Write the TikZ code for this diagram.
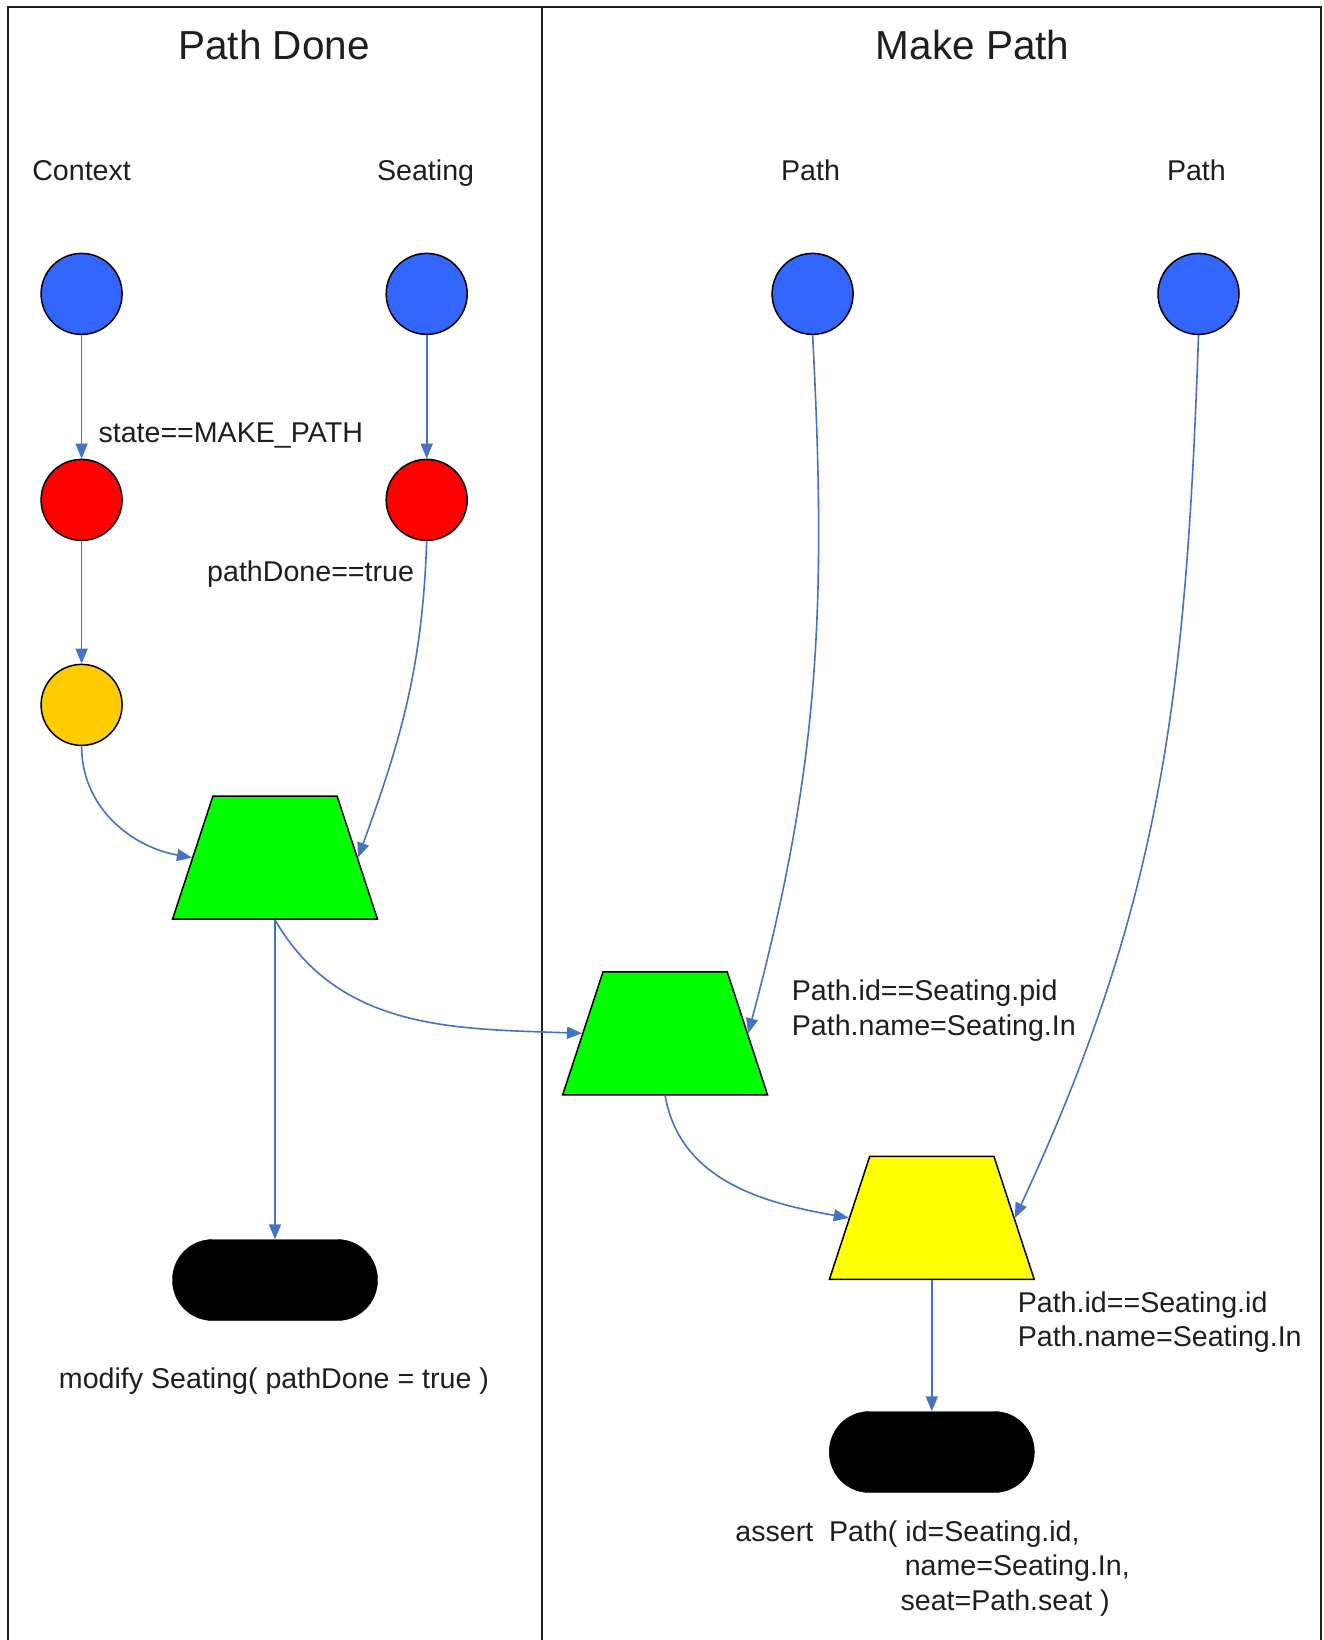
\documentclass[tikz,border=0pt]{standalone}
\usepackage{fontspec}
\setmainfont{Liberation Sans}
\usetikzlibrary{arrows.meta,shapes.geometric}
\definecolor{cblue}{RGB}{51,102,255}
\definecolor{cred}{RGB}{255,0,0}
\definecolor{corange}{RGB}{255,204,0}
\definecolor{cgreen}{RGB}{0,255,0}
\definecolor{cyellow}{RGB}{255,255,0}
\definecolor{carrow}{RGB}{70,114,196}
\definecolor{ctext}{RGB}{30,30,30}
\begin{document}
\begin{tikzpicture}[x=1pt,y=1pt,
  fact/.style={circle,draw=black,line width=1.5pt,minimum size=81pt,inner sep=0pt},
  joinbox/.style={trapezium,trapezium angle=72,trapezium stretches=true,minimum width=205pt,minimum height=123pt,draw=black,line width=1.5pt,inner sep=4pt},
  termbox/.style={rectangle,rounded corners=40pt,fill=black,draw=black,minimum width=205pt,minimum height=81pt},
  conn/.style={draw=carrow,line width=1.6pt,-{Triangle[length=15pt,width=12pt]}},
  lbl/.style={font=\fontsize{28.6}{34.5}\selectfont,text=ctext,inner sep=0pt},
  ttl/.style={font=\fontsize{40.5}{48}\selectfont,text=ctext,inner sep=0pt},
  framestyle/.style={draw=ctext,line width=2pt}]
\useasboundingbox (0,0) rectangle (1324,-1640);
% frame
\draw[framestyle] (8,-1640) -- (8,-7) -- (1321,-7) -- (1321,-1640);
\draw[framestyle] (542,-7) -- (542,-1640);
% titles
\node[ttl,anchor=base] (t1) at (274,-60) {Path Done};
\node[ttl,anchor=base] (t2) at (972.6,-60) {Make Path};
% column labels
\node[lbl,anchor=base] (h1) at (81.6,-181) {Context};
\node[lbl,anchor=base] (h2) at (425.6,-181) {Seating};
\node[lbl,anchor=base] (h3) at (810.5,-181) {Path};
\node[lbl,anchor=base] (h4) at (1196.4,-181) {Path};
% facts
\node[fact,fill=cblue] (c1) at (81.6,-293.9) {};
\node[fact,fill=cblue] (c2) at (426.7,-293.9) {};
\node[fact,fill=cblue] (c3) at (812.6,-293.9) {};
\node[fact,fill=cblue] (c4) at (1198.5,-293.9) {};
\node[fact,fill=cred] (r1) at (81.6,-499.9) {};
\node[fact,fill=cred] (r2) at (426.7,-499.9) {};
\node[fact,fill=corange] (o1) at (81.6,-704.9) {};
% joins
\node[joinbox,fill=cgreen] (g1) at (275,-857.6) {};
\node[joinbox,fill=cgreen] (g2) at (665.1,-1033.3) {};
\node[joinbox,fill=cyellow] (y1) at (931.8,-1217.9) {};
% terminals
\node[termbox] (e1) at (275,-1280) {};
\node[termbox] (e2) at (931.8,-1452) {};
% connectors
\draw[conn] (c1) -- (r1);
\draw[conn] (c2) -- (r2);
\draw[conn] (r1) -- (o1);
\draw[conn] (o1.south) to[out=-90,in=170] (g1.left side);
\draw[conn] (r2.south) to[out=-92,in=70] (g1.right side);
\draw[conn] (g1.south) -- (e1.north);
\draw[conn] (g1.south) to[out=-60,in=178] (g2.left side);
\draw[conn] (c3.south) to[out=-87,in=75] (g2.right side);
\draw[conn] (g2.south) to[out=-80,in=170] (y1.left side);
\draw[conn] (c4.south) to[out=-92,in=65] (y1.right side);
\draw[conn] (y1.south) -- (e2.north);
% labels
\node[lbl,anchor=base west] (l1) at (98.3,-442) {state==MAKE\_PATH};
\node[lbl,anchor=base] (l2) at (310.6,-581) {pathDone==true};
\node[lbl,anchor=base west] (l3a) at (791.7,-1000.5) {Path.id==Seating.pid};
\node[lbl,anchor=base west] (l3b) at (791.7,-1035) {Path.name=Seating.In};
\node[lbl,anchor=base west] (l4a) at (1017.6,-1312) {Path.id==Seating.id};
\node[lbl,anchor=base west] (l4b) at (1017.6,-1346.5) {Path.name=Seating.In};
\node[lbl,anchor=base] (l5) at (274,-1388) {modify Seating( pathDone = true )};
\node[lbl,anchor=base west] (l6a) at (735.2,-1541) {assert\ \ Path( id=Seating.id,};
\node[lbl,anchor=base west] (l6b) at (904.6,-1575.6) {name=Seating.In,};
\node[lbl,anchor=base west] (l6c) at (900.4,-1610) {seat=Path.seat )};
\end{tikzpicture}
\end{document}
